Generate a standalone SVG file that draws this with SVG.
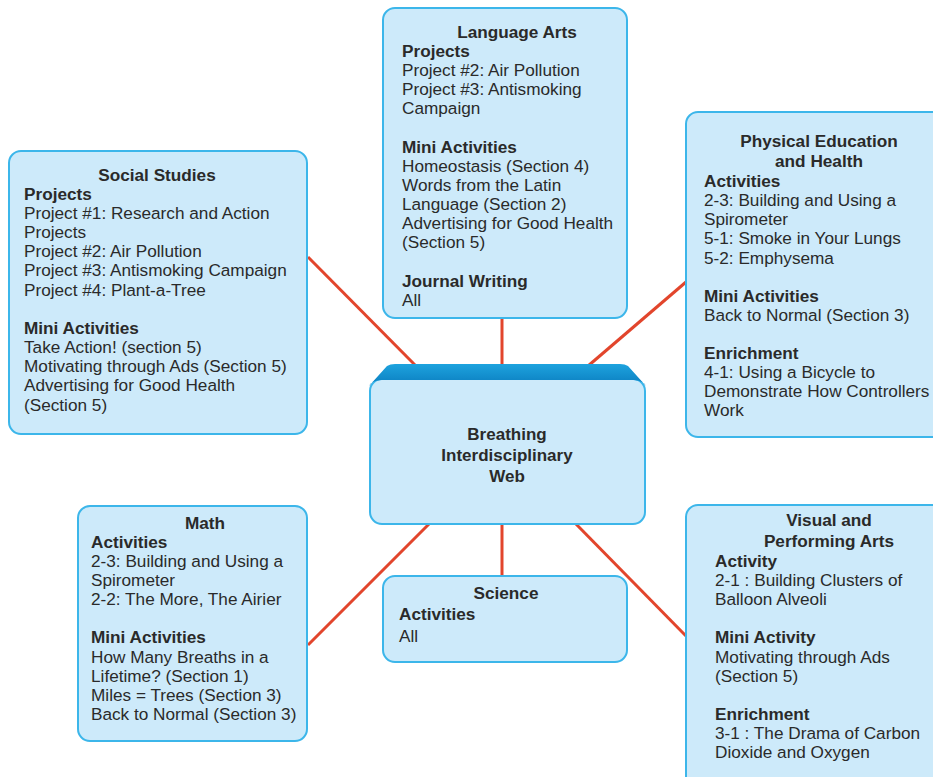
<svg xmlns="http://www.w3.org/2000/svg" width="933" height="777" viewBox="0 0 933 777">
<defs>
<style>
.box{fill:#cdeafa;stroke:#3cb6ea;stroke-width:2}
.ln{stroke:#e2452c;stroke-width:3;fill:none}
text{font-family:"Liberation Sans",Arial,sans-serif;font-size:17.2px;fill:#2a2a2a}
.h{font-weight:bold}
.t{font-weight:bold;text-anchor:middle}
.c{font-weight:bold;text-anchor:middle;font-size:17px}
</style>
<linearGradient id="top" x1="0" y1="0" x2="0" y2="1">
<stop offset="0" stop-color="#1ea3de"/>
<stop offset="1" stop-color="#0a7dbf"/>
</linearGradient>
</defs>
<g id="connectors">
<line class="ln" x1="308" y1="257" x2="416" y2="366"/>
<line class="ln" x1="502" y1="318" x2="502" y2="366"/>
<line class="ln" x1="686" y1="282" x2="588" y2="366"/>
<line class="ln" x1="308" y1="645" x2="430" y2="523"/>
<line class="ln" x1="502" y1="523" x2="502" y2="577"/>
<line class="ln" x1="686" y1="636" x2="575" y2="523"/>
</g>
<g id="social">
<rect class="box" x="9" y="151" width="298" height="283" rx="12"/>
<text class="t" x="157" y="181">Social Studies</text>
<text class="h" x="24" y="200">Projects</text>
<text x="24" y="219">Project #1: Research and Action</text>
<text x="24" y="238">Projects</text>
<text x="24" y="257">Project #2: Air Pollution</text>
<text x="24" y="276">Project #3: Antismoking Campaign</text>
<text x="24" y="296">Project #4: Plant-a-Tree</text>
<text class="h" x="24" y="334">Mini Activities</text>
<text x="24" y="353">Take Action! (section 5)</text>
<text x="24" y="372">Motivating through Ads (Section 5)</text>
<text x="24" y="391">Advertising for Good Health</text>
<text x="24" y="411">(Section 5)</text>
</g>
<g id="language">
<rect class="box" x="383" y="8" width="244" height="310" rx="12"/>
<text class="t" x="517" y="38">Language Arts</text>
<text class="h" x="402" y="57">Projects</text>
<text x="402" y="76">Project #2: Air Pollution</text>
<text x="402" y="95">Project #3: Antismoking</text>
<text x="402" y="114">Campaign</text>
<text class="h" x="402" y="153">Mini Activities</text>
<text x="402" y="172">Homeostasis (Section 4)</text>
<text x="402" y="191">Words from the Latin</text>
<text x="402" y="210">Language (Section 2)</text>
<text x="402" y="229">Advertising for Good Health</text>
<text x="402" y="248">(Section 5)</text>
<text class="h" x="402" y="287">Journal Writing</text>
<text x="402" y="306">All</text>
</g>
<g id="pe">
<rect class="box" x="686" y="112" width="260" height="325" rx="12"/>
<text class="t" x="819" y="147">Physical Education</text>
<text class="t" x="819" y="167">and Health</text>
<text class="h" x="704" y="187">Activities</text>
<text x="704" y="206">2-3: Building and Using a</text>
<text x="704" y="225">Spirometer</text>
<text x="704" y="244">5-1: Smoke in Your Lungs</text>
<text x="704" y="264">5-2: Emphysema</text>
<text class="h" x="704" y="302">Mini Activities</text>
<text x="704" y="321">Back to Normal (Section 3)</text>
<text class="h" x="704" y="359">Enrichment</text>
<text x="704" y="378">4-1: Using a Bicycle to</text>
<text x="704" y="397">Demonstrate How Controllers</text>
<text x="704" y="416">Work</text>
</g>
<g id="center">
<rect class="box" x="370" y="379" width="275" height="145" rx="12"/>
<path d="M369,386 L387,366 Q390,364 395,364 L620,364 Q625,364 628,366 L646,386 Q644,381 634,380 L381,380 Q371,381 369,386 Z" fill="url(#top)"/>
<text class="c" x="507" y="440">Breathing</text>
<text class="c" x="507" y="461">Interdisciplinary</text>
<text class="c" x="507" y="482">Web</text>
</g>
<g id="math">
<rect class="box" x="78" y="506" width="229" height="235" rx="12"/>
<text class="t" x="205" y="529">Math</text>
<text class="h" x="91" y="548">Activities</text>
<text x="91" y="567">2-3: Building and Using a</text>
<text x="91" y="586">Spirometer</text>
<text x="91" y="605">2-2: The More, The Airier</text>
<text class="h" x="91" y="643">Mini Activities</text>
<text x="91" y="663">How Many Breaths in a</text>
<text x="91" y="682">Lifetime? (Section 1)</text>
<text x="91" y="701">Miles = Trees (Section 3)</text>
<text x="91" y="720">Back to Normal (Section 3)</text>
</g>
<g id="science">
<rect class="box" x="383" y="576" width="244" height="86" rx="12"/>
<text class="t" x="506" y="599">Science</text>
<text class="h" x="399" y="620">Activities</text>
<text x="399" y="642">All</text>
</g>
<g id="visual">
<rect class="box" x="686" y="505" width="260" height="285" rx="12"/>
<text class="t" x="829" y="526">Visual and</text>
<text class="t" x="829" y="547">Performing Arts</text>
<text class="h" x="715" y="567">Activity</text>
<text x="715" y="586">2-1 : Building Clusters of</text>
<text x="715" y="605">Balloon Alveoli</text>
<text class="h" x="715" y="643">Mini Activity</text>
<text x="715" y="663">Motivating through Ads</text>
<text x="715" y="682">(Section 5)</text>
<text class="h" x="715" y="720">Enrichment</text>
<text x="715" y="739">3-1 : The Drama of Carbon</text>
<text x="715" y="758">Dioxide and Oxygen</text>
</g>
</svg>
